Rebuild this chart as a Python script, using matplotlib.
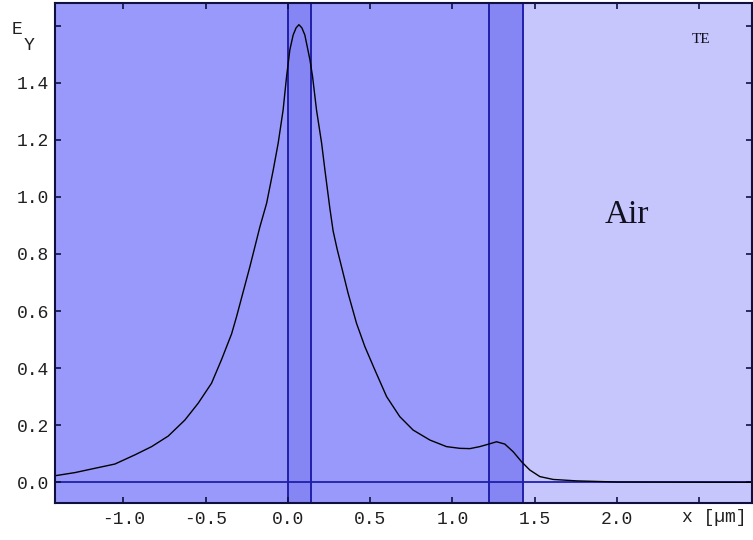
import matplotlib
matplotlib.use("Agg")
import matplotlib.pyplot as plt

# Field profile E_y(x) across the waveguide stack
x_um = [-1.415, -1.294, -1.173, -1.051, -0.930, -0.828, -0.727, -0.626,
        -0.545, -0.464, -0.403, -0.342, -0.312, -0.231, -0.170, -0.129,
        -0.089, -0.059, -0.029, -0.008, 0.012, 0.032, 0.050, 0.067, 0.085,
        0.103, 0.134, 0.150, 0.174, 0.205, 0.225, 0.255, 0.275, 0.300,
        0.326, 0.366, 0.417, 0.468, 0.529, 0.600, 0.680, 0.761, 0.863,
        0.964, 1.045, 1.106, 1.166, 1.221, 1.268, 1.318, 1.369, 1.420,
        1.470, 1.531, 1.612, 1.754, 2.0, 2.82]
e_y = [0.023, 0.034, 0.049, 0.064, 0.096, 0.125, 0.162, 0.218,
       0.277, 0.347, 0.430, 0.520, 0.580, 0.755, 0.895, 0.978,
       1.094, 1.188, 1.304, 1.421, 1.515, 1.567, 1.592, 1.603, 1.592,
       1.567, 1.480, 1.421, 1.304, 1.188, 1.094, 0.960, 0.880, 0.815,
       0.755, 0.662, 0.557, 0.475, 0.393, 0.300, 0.230, 0.183, 0.148,
       0.125, 0.119, 0.118, 0.125, 0.134, 0.142, 0.134, 0.107, 0.072,
       0.043, 0.020, 0.010, 0.005, 0.001, 0.0]

# Layer boundaries (um)
core_layer = (0.0, 0.142)
second_layer = (1.223, 1.426)
x_limits = (-1.415, 2.82)
y_limits = (-0.0725, 1.679)

x_ticks = [-1.0, -0.5, 0.0, 0.5, 1.0, 1.5, 2.0, 2.5]
x_tick_labels = ["-1.0", "-0.5", "0.0", "0.5", "1.0", "1.5", "2.0", ""]
y_ticks = [0.0, 0.2, 0.4, 0.6, 0.8, 1.0, 1.2, 1.4, 1.6]
y_tick_labels = ["0.0", "0.2", "0.4", "0.6", "0.8", "1.0", "1.2", "1.4", ""]

substrate_color = "#9999fb"
layer_color = "#8585f3"
air_color = "#c6c6fc"
line_blue = "#2020a8"
frame_color = "#101040"
mono = "Liberation Mono"

fig = plt.figure(figsize=(7.53, 5.40), dpi=100)
ax = fig.add_axes([55 / 753, 37 / 540, 697 / 753, 500 / 540])
ax.set_xlim(*x_limits)
ax.set_ylim(*y_limits)

# Regions
ax.axvspan(x_limits[0], second_layer[1], color=substrate_color, lw=0, zorder=0)
ax.axvspan(second_layer[1], x_limits[1], color=air_color, lw=0, zorder=0)
for lo, hi in (core_layer, second_layer):
    ax.axvspan(lo, hi, color=layer_color, lw=0, zorder=0.5)
    ax.axvline(lo, color=line_blue, lw=1.4, zorder=1)
    ax.axvline(hi, color=line_blue, lw=1.4, zorder=1)

ax.axhline(0.0, color=line_blue, lw=1.3, zorder=1)
ax.plot(x_um, e_y, color="black", lw=1.0, zorder=2)

ax.set_xticks(x_ticks)
ax.set_xticklabels(x_tick_labels, fontfamily=mono, fontsize=13)
ax.set_yticks(y_ticks)
ax.set_yticklabels(y_tick_labels, fontfamily=mono, fontsize=13)
ax.tick_params(direction="in", length=4, width=1.2, color=frame_color,
               top=True, right=True, labelcolor="#202020")
ax.tick_params(axis="x", pad=6)
ax.tick_params(axis="y", pad=4)
for s in ax.spines.values():
    s.set_color(frame_color)
    s.set_linewidth(1.5)

ax.text(2.06, 0.937, "Air", fontfamily="Liberation Serif", fontsize=24,
        ha="center", va="center", color="#101020")
ax.text(2.51, 1.55, "TE", fontfamily="Liberation Serif", fontsize=11,
        ha="center", va="center", color="#101020")

# Axis captions
fig.text(12 / 753, 1 - 29 / 540, "E", fontfamily=mono, fontsize=13,
         ha="left", va="center", color="#202020")
fig.text(24 / 753, 1 - 45 / 540, "Y", fontfamily=mono, fontsize=13,
         ha="left", va="center", color="#202020")
fig.text(682 / 753, 1 - 517 / 540, "x [µm]", fontfamily=mono, fontsize=13,
         ha="left", va="center", color="#202020")

fig.savefig("out.png", dpi=100, facecolor="white")
